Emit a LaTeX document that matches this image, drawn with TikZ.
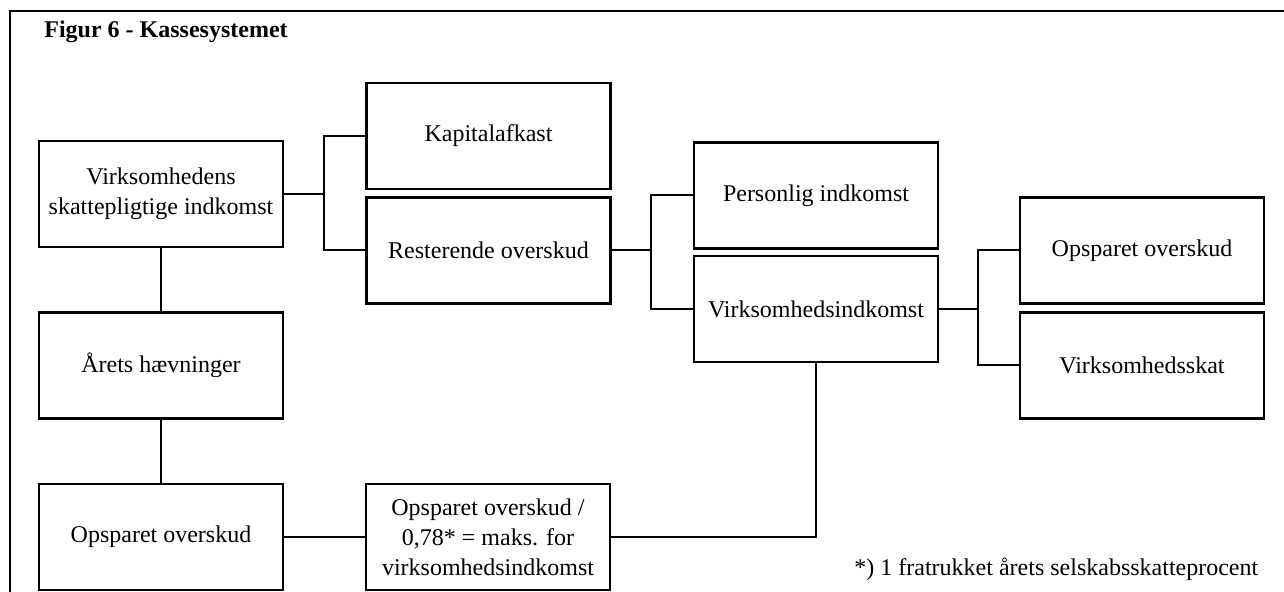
\documentclass[tikz,border=0pt]{standalone}
\usepackage{fontspec}
\setmainfont{Liberation Serif}
\usetikzlibrary{positioning,calc}

\tikzset{
  boks/.style={draw,line width=1.1pt,minimum width=122pt,minimum height=53pt,
    align=center,inner sep=2pt,font=\fontsize{12}{15}\selectfont},
  streg/.style={line width=1pt}
}

\begin{document}
\begin{tikzpicture}[x=0.5pt,y=-0.5pt]
      \useasboundingbox (0,0) rectangle (1284,592);
      \draw[line width=1.1pt] (10,592) -- (10,11) -- (1284,11);
      \node[anchor=base west,inner sep=0pt,font=\fontsize{12}{15}\selectfont\bfseries] (titel) at (44,38) {Figur 6 - Kassesystemet};

      \begin{scope}
        \node[boks] (skatind) at (161,194) {Virksomhedens\\skattepligtige indkomst};
        \node[boks] (haev) at (161,365.5) {Årets hævninger};
        \node[boks] (opsp) at (161,537) {Opsparet overskud};
        \node[boks] (maks) at (488,537) {Opsparet overskud /\\0,78* = maks. for\\virksomhedsindkomst};
      \end{scope}

      \begin{scope}
        \node[boks] (kapital) at (488.5,136) {Kapitalafkast};
        \node[boks] (rest) at (488.5,250.5) {Resterende overskud};
        \node[boks] (pers) at (816,195.5) {Personlig indkomst};
        \node[boks] (vind) at (816,309) {Virksomhedsindkomst};
        \node[boks] (opspvirk) at (1142,250.5) {Opsparet overskud};
        \node[boks] (vskat) at (1142,365.5) {Virksomhedsskat};
      \end{scope}

      \coordinate (gren1) at (324,194);
      \coordinate (gren2) at (651,250.5);
      \coordinate (gren3) at (978,309);

      \draw[streg] (skatind) -- (gren1);
      \draw[streg] (kapital.west) -| (gren1) |- (rest.west);
      \draw[streg] (rest) -- (gren2);
      \draw[streg] (pers.west) -| (gren2) |- (vind.west);
      \draw[streg] (vind) -- (gren3);
      \draw[streg] (opspvirk.west) -| (gren3) |- (vskat.west);

      \draw[streg] (skatind) -- (haev);
      \draw[streg] (haev) -- (opsp);
      \draw[streg] (opsp) -- (maks);
      \draw[streg] (maks.east) -| (vind.south);

      \node[anchor=base west,inner sep=0pt,font=\fontsize{12}{15}\selectfont] (note) at (854,575) {*) 1 fratrukket årets selskabsskatteprocent};
    \end{tikzpicture}
\end{document}
